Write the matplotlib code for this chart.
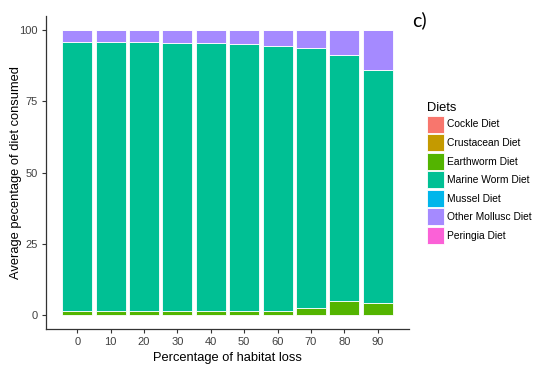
import matplotlib.pyplot as plt
import numpy as np
from matplotlib.patches import Patch

# habitat loss categories
habitatLoss = ['0', '10', '20', '30', '40', '50', '60', '70', '80', '90']

diets = ['Cockle Diet', 'Crustacean Diet', 'Earthworm Diet', 'Marine Worm Diet',
         'Mussel Diet', 'Other Mollusc Diet', 'Peringia Diet']
dietColours = ['#F8766D', '#C49A00', '#53B400', '#00C094',
               '#00B6EB', '#A58AFF', '#FB61D7']

# average percentage of diet consumed
cockle = [0, 0, 0, 0, 0, 0, 0, 0, 0, 0]
crustacean = [0, 0, 0, 0, 0, 0, 0, 0, 0, 0]
earthworm = [1.2, 1.2, 1.2, 1.2, 1.2, 1.2, 1.5, 2.5, 5.0, 4.2]
marineWorm = [94.7, 94.6, 94.5, 94.4, 94.2, 93.9, 93.0, 91.1, 86.3, 81.8]
mussel = [0, 0, 0, 0, 0, 0, 0, 0, 0, 0]
otherMollusc = [4.1, 4.2, 4.3, 4.4, 4.6, 4.9, 5.5, 6.4, 8.7, 14.0]
peringia = [0, 0, 0, 0, 0, 0, 0, 0, 0, 0]


def main():
    plt.rcParams['font.family'] = ['Liberation Sans', 'DejaVu Sans']

    series = [cockle, crustacean, earthworm, marineWorm, mussel, otherMollusc, peringia]

    fig = plt.figure(figsize=(5.34, 3.69), dpi=100)
    ax = fig.add_axes([46 / 534, 40 / 369, 363 / 534, 313 / 369])

    xPos = np.arange(len(habitatLoss))
    bottom = np.zeros(len(habitatLoss))
    for values, colour in zip(series, dietColours):
        values = np.array(values, dtype=float)
        ax.bar(xPos, values, width=0.9, bottom=bottom, color=colour,
               edgecolor='white', linewidth=0.6)
        bottom += values
    # END for

    ax.set_xlim(-0.94, 9.94)
    ax.set_ylim(-5, 105)
    ax.set_xticks(xPos)
    ax.set_xticklabels(habitatLoss)
    ax.set_yticks([0, 25, 50, 75, 100])

    for side in ['top', 'right']:
        ax.spines[side].set_visible(False)
    for side in ['left', 'bottom']:
        ax.spines[side].set_color('#333333')
        ax.spines[side].set_linewidth(0.9)

    ax.tick_params(axis='both', length=3, width=0.8, color='#333333',
                   labelsize=8, labelcolor='#404040', pad=3)

    ax.set_xlabel('Percentage of habitat loss', fontsize=9.3, labelpad=3)
    ax.set_ylabel('Average pecentage of diet consumed', fontsize=9.3, labelpad=-2)

    handles = [Patch(facecolor=c, edgecolor='white', linewidth=0.6) for c in dietColours]
    fig.legend(handles, diets, loc='upper left', bbox_to_anchor=(422 / 534, 1 - 97 / 369),
               frameon=False, fontsize=7.4, title='Diets', title_fontsize=9.3,
               alignment='left', borderpad=0, handlelength=1.65, handleheight=2.17,
               labelspacing=0.15, handletextpad=0.3)

    fig.text(412 / 534, 1 - 20 / 369, 'c)', fontsize=14, family=['Lato', 'DejaVu Sans'],
             va='center', ha='left')

    fig.savefig('out.png', dpi=100)
# END main()


if __name__ == '__main__':
    main()
